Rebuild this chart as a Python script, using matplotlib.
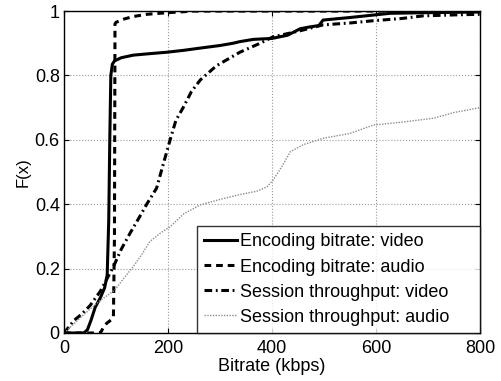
import matplotlib
matplotlib.use("Agg")
import matplotlib.pyplot as plt

plt.rcParams['font.family'] = ['Liberation Sans', 'DejaVu Sans']

# encoding bitrate: video
enc_v_x = [0, 38, 45, 52, 60, 70, 78, 83, 86, 88, 90, 93, 97, 110, 133, 160, 197, 230, 262, 300, 325, 338, 364, 400, 430, 454, 470, 490, 498, 550, 627, 700, 800]
enc_v_y = [0, 0, 0.01, 0.04, 0.08, 0.11, 0.14, 0.18, 0.35, 0.6, 0.8, 0.835, 0.845, 0.855, 0.863, 0.867, 0.872, 0.878, 0.885, 0.893, 0.9, 0.905, 0.912, 0.915, 0.925, 0.945, 0.95, 0.955, 0.972, 0.98, 0.993, 0.995, 0.997]

# encoding bitrate: audio
enc_a_x = [0, 70, 75, 82, 90, 95, 97, 98, 100, 115, 133, 160, 200, 250, 800]
enc_a_y = [0, 0, 0.015, 0.03, 0.04, 0.05, 0.3, 0.96, 0.965, 0.975, 0.983, 0.99, 0.995, 1.0, 1.0]

# session throughput: video
ses_v_x = [0, 10, 20, 35, 50, 70, 95, 110, 127, 145, 159, 178, 190, 204, 215, 229, 245, 262, 293, 338, 377, 402, 430, 457, 498, 550, 595, 650, 690, 750, 800]
ses_v_y = [0, 0.02, 0.04, 0.06, 0.085, 0.13, 0.206, 0.26, 0.31, 0.36, 0.40, 0.45, 0.52, 0.6, 0.66, 0.70, 0.75, 0.786, 0.83, 0.872, 0.9, 0.92, 0.93, 0.94, 0.957, 0.963, 0.97, 0.977, 0.985, 0.988, 0.99]

# session throughput: audio
ses_a_x = [0, 20, 40, 69, 98, 115, 133, 150, 165, 185, 204, 230, 262, 300, 338, 370, 390, 402, 420, 435, 460, 499, 550, 595, 650, 710, 750, 800]
ses_a_y = [0, 0.03, 0.06, 0.10, 0.134, 0.17, 0.206, 0.245, 0.284, 0.31, 0.33, 0.37, 0.398, 0.415, 0.43, 0.44, 0.454, 0.475, 0.52, 0.563, 0.585, 0.605, 0.62, 0.646, 0.655, 0.667, 0.685, 0.70]

fig = plt.figure(figsize=(5.02, 3.81), dpi=100)
ax = fig.add_axes([0.1275, 0.126, 0.829, 0.845])

ax.plot(enc_v_x, enc_v_y, color='black', lw=2.2, ls='-', label='Encoding bitrate: video')
ax.plot(enc_a_x, enc_a_y, color='black', lw=2.2, ls=(0, (2.2, 1.6)), label='Encoding bitrate: audio')
ax.plot(ses_v_x, ses_v_y, color='black', lw=2.2, ls=(0, (2.5, 1.2, 0.6, 1.2)), label='Session throughput: video')
ax.plot(ses_a_x, ses_a_y, color='0.55', lw=1, ls=(0, (1, 1)), label='Session throughput: audio')

ax.set_xlim(0, 800)
ax.set_ylim(0, 1)
ax.set_xticks([0, 200, 400, 600, 800])
ax.set_yticks([0, 0.2, 0.4, 0.6, 0.8, 1])
ax.set_yticklabels(['0', '0.2', '0.4', '0.6', '0.8', '1'])
ax.tick_params(direction='in', top=True, right=True, labelsize=13)
ax.tick_params(axis='x', pad=5)
ax.tick_params(axis='y', pad=3)
ax.grid(True, color='0.6', ls=':', lw=0.8)
ax.set_xlabel('Bitrate (kbps)', fontsize=13, labelpad=1)
ax.set_ylabel('F(x)', fontsize=12, labelpad=3)
for s in ax.spines.values():
    s.set_linewidth(1)

leg = ax.legend(loc='lower left', bbox_to_anchor=(0.32, 0, 0.68, 0.335), mode='expand',
                fontsize=13, frameon=True, fancybox=False,
                edgecolor='black', borderaxespad=0, handlelength=1.8,
                handletextpad=0.15, labelspacing=0.45, borderpad=0.4)
leg.get_frame().set_linewidth(1)

fig.savefig('out.png', dpi=100)
